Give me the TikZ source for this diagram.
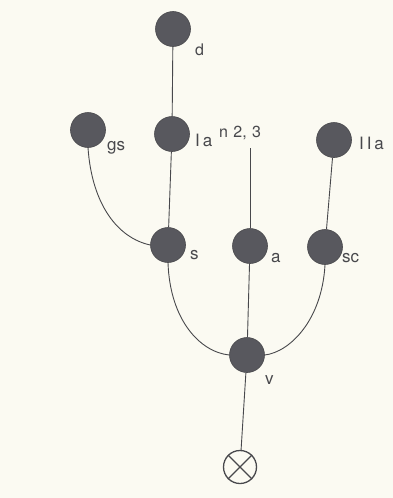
\documentclass[tikz,border=0pt]{standalone}
\usepackage{fontspec}
\setmainfont{TeX Gyre Heros}
\definecolor{bg}{RGB}{251,250,242}
\definecolor{ink}{RGB}{72,72,76}
\definecolor{dot}{RGB}{88,88,94}
\begin{document}
\begin{tikzpicture}[x=1pt,y=-1pt,
  blob/.style={circle,fill=dot,draw=ink,line width=0.6pt,minimum size=35pt,inner sep=0pt},
  lab/.style={text=ink,font=\fontsize{17}{18}\selectfont,inner sep=0pt,anchor=base west},
  conn/.style={draw=ink,line width=0.9pt}]
\fill[bg] (0,0) rectangle (393,498);
\useasboundingbox (0,0) rectangle (393,498);
\node[blob] (d) at (173,29) {};
\node[blob] (gs) at (88,130) {};
\node[blob] (Ia) at (172,134) {};
\node[blob] (IIa) at (334,140) {};
\node[blob] (s) at (168,245) {};
\node[blob] (a) at (250,246) {};
\node[blob] (sc) at (325,247) {};
\node[blob] (v) at (247,355) {};
\node[circle,draw=ink,line width=1.3pt,minimum size=33pt,inner sep=0pt] (o) at (240,467) {};
\draw[ink,line width=1.3pt] (o.45) -- (o.225) (o.135) -- (o.315);
\coordinate (top) at (250,148);
% labels
\node[lab,font=\fontsize{16}{17}\selectfont] (ld) at (195,55) {d};
\node[lab] (lgs) at (107,150) {gs};
\node[lab] (lIa) at (195,146) {I\,a};
\node[lab,font=\fontsize{16}{17}\selectfont] (ln) at (219,137) {n\,\,2,\,\,3};
\node[lab] (lIIa) at (359,149) {I\,I\,a};
\node[lab] (ls) at (190,259) {s};
\node[lab] (la) at (271,262) {a};
\node[lab] (lsc) at (342,262) {sc};
\node[lab] (lv) at (265,384) {v};
% connectors
\draw[conn] (d) -- (Ia);
\draw[conn] (Ia) -- (s);
\draw[conn] (gs.south) .. controls (92,205) and (118,238) .. (s.west);
\draw[conn] (top) -- (a);
\draw[conn] (IIa) -- (sc);
\draw[conn] (s.south) .. controls (170,320) and (200,352) .. (v.west);
\draw[conn] (sc.south) .. controls (322,320) and (290,352) .. (v.east);
\draw[conn] (a) -- (v);
\draw[conn] (v) -- (o);
\end{tikzpicture}
\end{document}
